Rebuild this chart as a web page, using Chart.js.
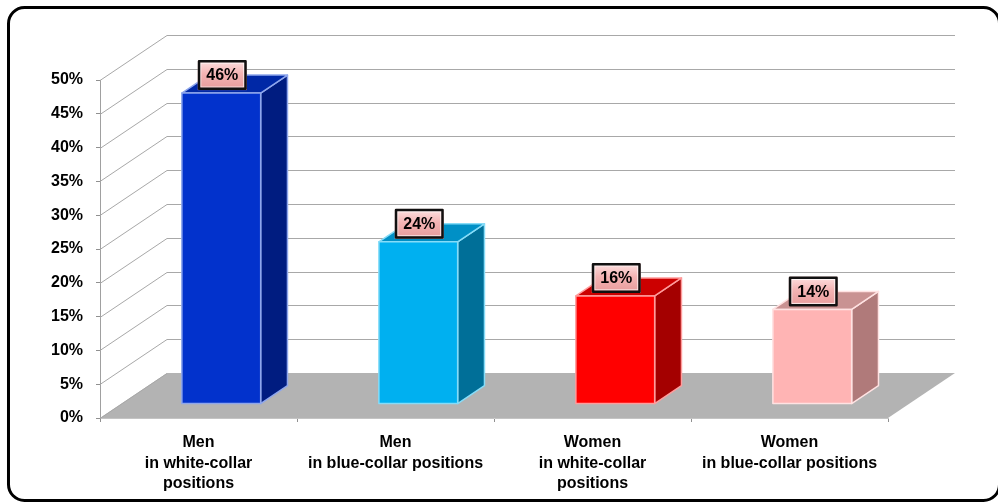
<!DOCTYPE html>
<html>
<head>
<meta charset="utf-8">
<script src="https://cdn.jsdelivr.net/npm/chart.js@4/dist/chart.umd.min.js"></script>
<style>
  html, body { margin: 0; padding: 0; background: #ffffff; }
  canvas { display: block; }
</style>
</head>
<body>
<canvas id="chart" width="998" height="504"></canvas>
<script>
// Share of employees by sex and type of position
const categories = [
  ['Men', 'in white-collar', 'positions'],
  ['Men', 'in blue-collar positions'],
  ['Women', 'in white-collar', 'positions'],
  ['Women', 'in blue-collar positions']
];
const shares = [46, 24, 16, 14];
const tickValues = [0, 5, 10, 15, 20, 25, 30, 35, 40, 45, 50];

// Face colours per bar: front, side, top, edge highlight
const frontColors = ['#0232cc', '#00b0f0', '#ff0000', '#ffb4b4'];
const sideColors  = ['#001c80', '#006f98', '#a40000', '#b07a7a'];
const topColors   = ['#0028a6', '#0090c6', '#cc0000', '#c99292'];
const edgeColors  = ['#8ea6ec', '#86dcf8', '#ff9c9c', '#ffe2e2'];

// Perspective depth vector of the plot box and where the bars sit in it
const DEPTH = { x: 67, y: -45 };
const BAR_FRONT = 0.31;
const BAR_BACK = 0.71;

const FONT = "'Liberation Sans', Arial, sans-serif";

const box3d = {
  id: 'box3d',
  beforeDraw(chart) {
    const ctx = chart.ctx;
    ctx.save();
    ctx.fillStyle = '#ffffff';
    ctx.fillRect(0, 0, chart.width, chart.height);
    ctx.restore();
  },
  beforeDatasetsDraw(chart) {
    const ctx = chart.ctx;
    const xs = chart.scales.x, ys = chart.scales.y;
    const L = xs.left, R = xs.right;
    const y0 = ys.getPixelForValue(0);
    ctx.save();
    // floor
    ctx.fillStyle = '#b3b3b3';
    ctx.beginPath();
    ctx.moveTo(L, y0);
    ctx.lineTo(R, y0);
    ctx.lineTo(R + DEPTH.x, y0 + DEPTH.y);
    ctx.lineTo(L + DEPTH.x, y0 + DEPTH.y);
    ctx.closePath();
    ctx.fill();
    // wall gridlines: left wall diagonal + back wall horizontal
    ctx.strokeStyle = '#a8a8a8';
    ctx.lineWidth = 1;
    tickValues.forEach(v => {
      if (v === 0) return;
      const y = Math.round(ys.getPixelForValue(v)) + 0.5;
      ctx.beginPath();
      ctx.moveTo(L, y);
      ctx.lineTo(L + DEPTH.x, y + DEPTH.y);
      ctx.lineTo(R + DEPTH.x, y + DEPTH.y);
      ctx.stroke();
    });
    // diagonal at floor level on the left wall
    ctx.beginPath();
    ctx.moveTo(L, y0 + 0.5);
    ctx.lineTo(L + DEPTH.x, y0 + DEPTH.y + 0.5);
    ctx.stroke();
    ctx.restore();
  },
  afterDatasetsDraw(chart) {
    const ctx = chart.ctx;
    const meta = chart.getDatasetMeta(0);
    const fx = DEPTH.x * BAR_FRONT, fy = DEPTH.y * BAR_FRONT;
    const bx = DEPTH.x * BAR_BACK, by = DEPTH.y * BAR_BACK;
    ctx.save();
    meta.data.forEach((el, i) => {
      const p = el.getProps(['x', 'y', 'base', 'width'], true);
      const l = p.x - p.width / 2 + 2, r = p.x + p.width / 2 + 2;
      const t = p.y, b = p.base;
      ctx.lineJoin = 'round';
      ctx.lineWidth = 1.5;
      ctx.strokeStyle = edgeColors[i];
      // side face
      ctx.fillStyle = sideColors[i];
      ctx.beginPath();
      ctx.moveTo(r + fx, t + fy);
      ctx.lineTo(r + bx, t + by);
      ctx.lineTo(r + bx, b + by);
      ctx.lineTo(r + fx, b + fy);
      ctx.closePath();
      ctx.fill();
      ctx.stroke();
      // top face
      ctx.fillStyle = topColors[i];
      ctx.beginPath();
      ctx.moveTo(l + fx, t + fy);
      ctx.lineTo(r + fx, t + fy);
      ctx.lineTo(r + bx, t + by);
      ctx.lineTo(l + bx, t + by);
      ctx.closePath();
      ctx.fill();
      ctx.stroke();
      // front face
      ctx.fillStyle = frontColors[i];
      ctx.beginPath();
      ctx.rect(l + fx, t + fy, r - l, b - t);
      ctx.fill();
      ctx.stroke();

      // value label box
      const cx = (l + r) / 2 + fx + 1;
      const bw = 49, bh = 30;
      const bxl = cx - bw / 2, bty = t + fy - 3 - bh;
      const g = ctx.createLinearGradient(0, bty, 0, bty + bh);
      g.addColorStop(0, '#fde3e3');
      g.addColorStop(0.45, '#f4b4b4');
      g.addColorStop(1, '#e79a9a');
      ctx.fillStyle = g;
      ctx.fillRect(bxl, bty, bw, bh);
      ctx.strokeStyle = 'rgba(255,255,255,0.8)';
      ctx.lineWidth = 1;
      ctx.strokeRect(bxl + 3, bty + 3, bw - 6, bh - 6);
      ctx.strokeStyle = '#111111';
      ctx.lineWidth = 2.5;
      ctx.strokeRect(bxl + 1.25, bty + 1.25, bw - 2.5, bh - 2.5);
      ctx.fillStyle = '#000000';
      ctx.font = 'bold 16px ' + FONT;
      ctx.textAlign = 'center';
      ctx.textBaseline = 'middle';
      ctx.fillText(shares[i] + '%', cx, bty + bh / 2 + 1);
    });
    ctx.restore();
  },
  afterDraw(chart) {
    const ctx = chart.ctx;
    ctx.save();
    ctx.strokeStyle = '#000000';
    ctx.lineWidth = 3;
    ctx.beginPath();
    ctx.roundRect(8.5, 7.5, 991, 493, 16);
    ctx.stroke();
    ctx.restore();
  }
};

new Chart(document.getElementById('chart'), {
  type: 'bar',
  data: {
    labels: categories,
    datasets: [{
      data: shares,
      backgroundColor: 'rgba(0,0,0,0)',
      borderWidth: 0,
      barPercentage: 0.4,
      categoryPercentage: 1
    }]
  },
  options: {
    responsive: false,
    animation: false,
    devicePixelRatio: 1,
    layout: { padding: { top: 80, right: 110, bottom: 0, left: 0 } },
    plugins: { legend: { display: false }, tooltip: { enabled: false } },
    scales: {
      x: {
        afterFit(scale) { scale.height = 86; },
        grid: { display: true, drawOnChartArea: false, drawTicks: true, tickLength: 4, color: '#909090', offset: true },
        border: { display: true, color: '#c4c4c4', width: 1 },
        ticks: {
          color: '#000000',
          padding: 10,
          maxRotation: 0,
          autoSkip: false,
          font: { family: FONT, size: 16, weight: 'bold', lineHeight: 1.3 }
        }
      },
      y: {
        min: 0,
        max: 50,
        afterFit(scale) { scale.width = 100; },
        afterBuildTicks(scale) { scale.ticks = tickValues.map(v => ({ value: v })); },
        grid: { display: true, drawOnChartArea: false, drawTicks: true, tickLength: 4, color: '#909090' },
        border: { display: true, color: '#a0a0a0', width: 1 },
        ticks: {
          color: '#000000',
          padding: 13,
          callback: v => v + '%',
          font: { family: FONT, size: 16, weight: 'bold' }
        }
      }
    }
  },
  plugins: [box3d]
});
</script>
</body>
</html>
